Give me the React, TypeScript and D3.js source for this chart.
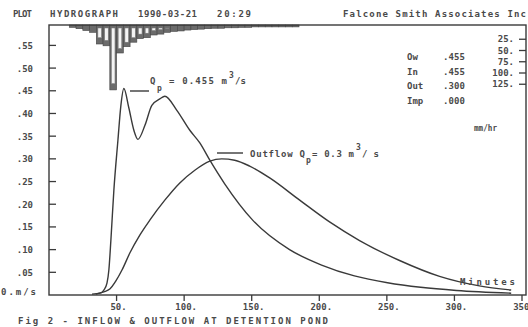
import React from "react";
import * as d3 from "d3";

// ---- data (minutes, m^3/s) ----
const inflowMin = [31.8, 37.7, 40.6, 42.9, 44.3, 45.8, 48.0, 51.0, 53.2, 55.4, 59.1, 62.8, 65.8, 71.0, 76.1, 82.0, 85.7, 94.6, 104.2, 111.6, 119.0, 130.0, 150.7, 178.0, 201.7, 226.0, 250.5, 275.0, 301.5, 342.0];
const inflowQ = [0.002, 0.004, 0.011, 0.026, 0.055, 0.121, 0.231, 0.341, 0.418, 0.455, 0.412, 0.363, 0.343, 0.374, 0.418, 0.432, 0.438, 0.407, 0.363, 0.335, 0.297, 0.245, 0.165, 0.1, 0.066, 0.042, 0.027, 0.017, 0.01, 0.004];

const outflowMin = [34.7, 40.6, 45.0, 49.5, 54.0, 59.9, 67.2, 74.6, 85.7, 96.8, 107.9, 119.0, 127.8, 137.4, 148.5, 163.3, 185.5, 207.6, 229.8, 259.4, 289.0, 318.5, 342.0];
const outflowQ = [0.002, 0.007, 0.013, 0.031, 0.055, 0.093, 0.132, 0.165, 0.209, 0.247, 0.275, 0.295, 0.3, 0.297, 0.284, 0.258, 0.209, 0.161, 0.12, 0.076, 0.041, 0.02, 0.011];

// rainfall hyetograph (5-minute blocks, mm/hr)
const rainStart = [15, 20, 25, 30, 35, 40, 45, 50, 55, 60, 65, 70, 75, 80, 85, 90, 95, 100, 105, 110, 115, 120, 125, 130, 135, 140, 145, 150, 155, 160, 165, 170, 175, 180];
const rainTotal = [3, 6, 10, 14, 40, 44, 142, 60, 46, 36, 28, 26, 20, 18, 14, 12, 11, 9, 8, 7, 6, 5, 5, 4, 4, 3, 3, 2, 2, 2, 2, 2, 2, 2];
const rainExcess = [0, 0, 0, 0, 26, 32, 128, 50, 36, 26, 18, 16, 10, 8, 5, 3, 2, 0, 0, 0, 0, 0, 0, 0, 0, 0, 0, 0, 0, 0, 0, 0, 0, 0];

const xTicks = [50, 100, 150, 200, 250, 300, 350];
const yTicks = [0.05, 0.1, 0.15, 0.2, 0.25, 0.3, 0.35, 0.4, 0.45, 0.5, 0.55];
const yTickLabels = [".05", ".10", ".15", ".20", ".25", ".30", ".35", ".40", ".45", ".50", ".55"];
const rainTicks = [25, 50, 75, 100, 125];
const statLabels = ["Ow", "In", "Out", "Imp"];
const statValues = [".455", ".455", ".300", ".000"];

const W = 528;
const H = 327;
const L = 49;
const R = 526;
const T = 25;
const B = 295;

const ink = "#3a3a3a";
const txt = "#4a4a4a";
const font = "'DejaVu Sans Mono', monospace";

export default function App() {
  const x = d3.scaleLinear().domain([0, 350]).range([L, 522]);
  const y = d3.scaleLinear().domain([0, 0.55]).range([B, 45.4]);
  const ry = d3.scaleLinear().domain([0, 150]).range([T + 1, T + 1 + 67.5]);

  const line = d3
    .line<[number, number]>()
    .x((d) => x(d[0]))
    .y((d) => y(d[1]))
    .curve(d3.curveMonotoneX);

  const inflow = inflowMin.map((m, i) => [m, inflowQ[i]] as [number, number]);
  const outflow = outflowMin.map((m, i) => [m, outflowQ[i]] as [number, number]);

  const tStyle: React.CSSProperties = {
    fontFamily: font,
    fontWeight: "bold",
    fontSize: 9,
    fill: txt,
  };

  return (
    <svg
      width={W}
      height={H}
      style={{ position: "absolute", left: 0, top: 0, background: "#fff" }}
    >
      <rect x={0} y={0} width={W} height={H} fill="#fff" />

      {/* header */}
      <g style={tStyle}>
        <text x={13} y={17} textLength={19} lengthAdjust="spacing">PLOT</text>
        <text x={50} y={17} textLength={68} lengthAdjust="spacing">HYDROGRAPH</text>
        <text x={138} y={17} textLength={59} lengthAdjust="spacing">1990-03-21</text>
        <text x={217} y={17} textLength={34} lengthAdjust="spacing">20:29</text>
        <text x={343} y={17} textLength={183} lengthAdjust="spacing">Falcone Smith Associates Inc</text>
      </g>

      {/* hyetograph */}
      <g>
        {rainStart.map((m, i) => (
          <rect
            key={"rt" + i}
            x={x(m)}
            y={T}
            width={x(m + 5) - x(m)}
            height={ry(rainTotal[i]) - T}
            fill="#6b6b6b"
            stroke="#444"
            strokeWidth={0.6}
          />
        ))}
        {rainStart.map((m, i) =>
          rainExcess[i] > 0 ? (
            <rect
              key={"re" + i}
              x={x(m) + 1.6}
              y={T + 3}
              width={Math.max(0.8, x(m + 5) - x(m) - 3.2)}
              height={Math.max(0, ry(rainExcess[i]) - T - 3)}
              fill="#f4f4f4"
              stroke="#777"
              strokeWidth={0.5}
            />
          ) : null
        )}
      </g>

      {/* frame */}
      <rect x={L} y={T} width={R - L} height={B - T} fill="none" stroke={ink} strokeWidth={1.4} />

      {/* y ticks */}
      {yTicks.map((v, i) => (
        <g key={"yt" + i}>
          <line x1={L} x2={L + 7} y1={y(v)} y2={y(v)} stroke={ink} strokeWidth={1.3} />
          <text x={33} y={y(v) + 3.5} textAnchor="end" style={tStyle}>
            {yTickLabels[i]}
          </text>
        </g>
      ))}
      <text x={1} y={y(0) - 0.5} textLength={35} lengthAdjust="spacing" style={tStyle}>
        0.m/s
      </text>

      {/* x ticks */}
      {xTicks.map((v, i) => (
        <g key={"xt" + i}>
          <line x1={x(v)} x2={x(v)} y1={B} y2={B + 6} stroke={ink} strokeWidth={1.3} />
          <text x={x(v) + 2} y={B + 15} textAnchor="middle" style={tStyle}>
            {v + "."}
          </text>
        </g>
      ))}

      {/* right rain axis */}
      {rainTicks.map((v, i) => (
        <g key={"rk" + i}>
          <line x1={R - 7} x2={R} y1={ry(v) + 2} y2={ry(v) + 2} stroke={ink} strokeWidth={1.3} />
          <text x={514} y={ry(v) + 5} textAnchor="end" style={tStyle}>
            {v + "."}
          </text>
        </g>
      ))}
      <text x={474} y={131} textLength={23} lengthAdjust="spacingAndGlyphs" style={{ ...tStyle, fontSize: 8 }}>
        mm/hr
      </text>

      {/* stats */}
      {statLabels.map((s, i) => (
        <g key={"st" + i}>
          <text x={407} y={60 + i * 14.7} style={tStyle}>{s}</text>
          <text x={443} y={60 + i * 14.7} textLength={22} lengthAdjust="spacing" style={tStyle}>
            {statValues[i]}
          </text>
        </g>
      ))}

      {/* curves */}
      <path d={line(inflow) || ""} fill="none" stroke={ink} strokeWidth={1.4} strokeLinejoin="round" />
      <path d={line(outflow) || ""} fill="none" stroke={ink} strokeWidth={1.4} strokeLinejoin="round" />

      {/* annotations */}
      <line x1={130} x2={149} y1={91} y2={91} stroke={ink} strokeWidth={1.4} />
      <g style={tStyle}>
        <text x={150} y={84}>Q</text>
        <text x={157} y={91} style={{ fontSize: 8 }}>p</text>
        <text x={169} y={84} textLength={58} lengthAdjust="spacing">= 0.455 m</text>
        <text x={229} y={78} style={{ fontSize: 8 }}>3</text>
        <text x={235} y={84} textLength={11} lengthAdjust="spacing">/s</text>
      </g>
      <line x1={217} x2={243} y1={153} y2={153} stroke={ink} strokeWidth={1.4} />
      <g style={tStyle}>
        <text x={250} y={157} textLength={55} lengthAdjust="spacing">Outflow Q</text>
        <text x={306} y={163} style={{ fontSize: 8 }}>p</text>
        <text x={312} y={157} textLength={42} lengthAdjust="spacing">= 0.3 m</text>
        <text x={356} y={150} style={{ fontSize: 8 }}>3</text>
        <text x={362} y={157} textLength={17} lengthAdjust="spacing">/s</text>
      </g>

      <text x={460} y={285} textLength={55} lengthAdjust="spacing" style={tStyle}>
        Minutes
      </text>

      {/* caption */}
      <text x={18} y={324} textLength={310} lengthAdjust="spacing" style={tStyle}>
        Fig 2 - INFLOW &amp; OUTFLOW AT DETENTION POND
      </text>
    </svg>
  );
}
